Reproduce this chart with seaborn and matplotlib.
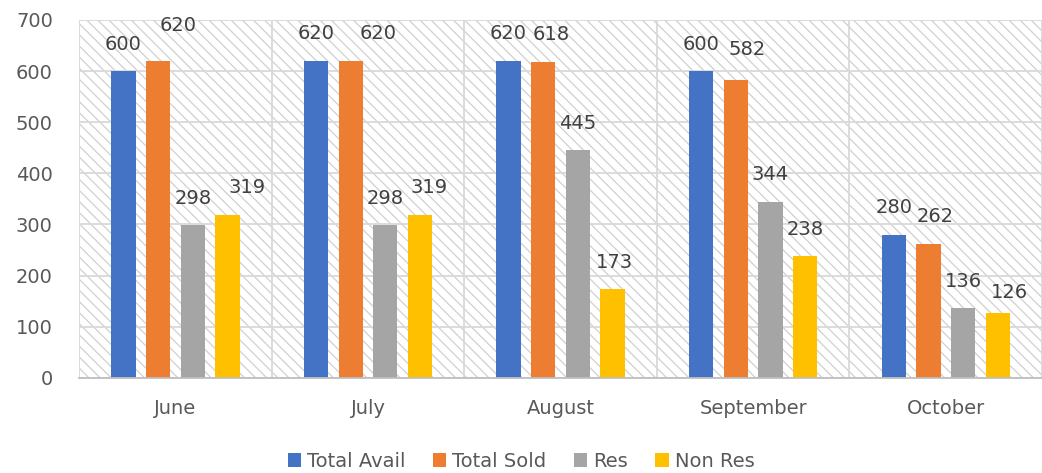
import matplotlib
matplotlib.use("Agg")
import matplotlib.pyplot as plt
import pandas as pd
import seaborn as sns
from matplotlib.patches import Patch

months = ["June", "July", "August", "September", "October"]
series = ["Total Avail", "Total Sold", "Res", "Non Res"]
total_avail = [600, 620, 620, 600, 280]
total_sold = [620, 620, 618, 582, 262]
res = [298, 298, 445, 344, 136]
non_res = [319, 319, 173, 238, 126]
colors = ["#4472C4", "#ED7D31", "#A5A5A5", "#FFC000"]

rows = []
for name, vals in zip(series, [total_avail, total_sold, res, non_res]):
    for m, v in zip(months, vals):
        rows.append({"month": m, "series": name, "value": v})
df = pd.DataFrame(rows)

# hand nudges of the data labels (pixels), as in the original chart
label_dx = [[0, 0, 0, 0, 0], [20, 27, 8, 11, 7], [0, 0, 0, 0, 0], [20, 9, 2, 0, 12]]
label_dy = [[0, 0, 0, 0, 0], [8, 0, 0, 4, 0], [0, 0, 0, 0, 0], [0, 0, 0, 0, -6]]

sns.set_theme(style="white")
plt.rcParams["font.family"] = ["DejaVu Sans"]
plt.rcParams["hatch.linewidth"] = 0.9

fig = plt.figure(figsize=(10.42, 4.73), dpi=100)
ax = fig.add_axes([0.076, 0.201, 0.924, 0.757])

# hatched plot area
ax.patch.set_facecolor("white")
ax.patch.set_edgecolor("#d0d0d0")
ax.patch.set_hatch("\\\\\\")

sns.barplot(data=df, x="month", y="value", hue="series", order=months,
            hue_order=series, palette=colors, saturation=1, width=0.72,
            gap=0.3, linewidth=0, ax=ax, legend=False)

for i, cont in enumerate(ax.containers):
    for j, bar in enumerate(cont):
        h = bar.get_height()
        ax.annotate(f"{h:.0f}", (bar.get_x() + bar.get_width() / 2, h),
                    xytext=(label_dx[i][j], 27 + label_dy[i][j]),
                    textcoords="offset pixels", ha="center", va="center",
                    fontsize=14, color="#404040")

ax.set_ylim(0, 700)
ax.set_yticks(range(0, 701, 100))
ax.set_xlim(-0.5, 4.426)
ax.set_xticks([i + 0.5 for i in range(-1, 5)], minor=True)
ax.set_axisbelow(True)
ax.grid(axis="y", color="#d9d9d9", linewidth=1.3)
ax.grid(axis="x", which="minor", color="#d9d9d9", linewidth=1.3)
ax.grid(axis="x", which="major", visible=False)
ax.set_xlabel("")
ax.set_ylabel("")

for s in ["top", "right", "left"]:
    ax.spines[s].set_visible(False)
ax.spines["bottom"].set_color("#bfbfbf")
ax.spines["bottom"].set_linewidth(1.3)

ax.tick_params(axis="y", length=0, pad=19, labelsize=14, labelcolor="#595959")
ax.tick_params(axis="x", which="both", length=0, pad=15, labelsize=14,
               labelcolor="#595959")

handles = [Patch(facecolor=c, edgecolor="none") for c in colors]
fig.legend(handles, series, loc="center", bbox_to_anchor=(0.5, 0.025), ncol=4,
           frameon=False, fontsize=14, labelcolor="#595959",
           handlelength=0.7, handleheight=0.7, handletextpad=0.3,
           columnspacing=1.4)

fig.savefig("out.png", dpi=100)
